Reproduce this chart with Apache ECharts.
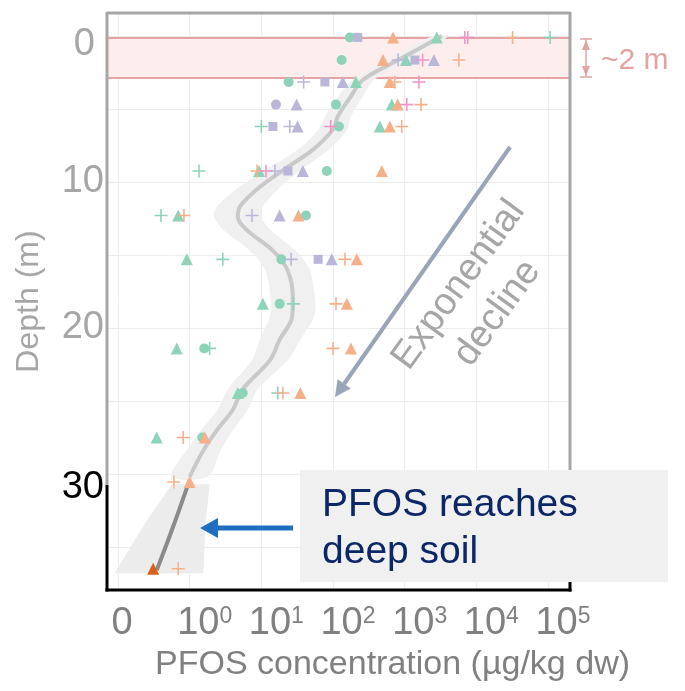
<!DOCTYPE html>
<html><head><meta charset="utf-8">
<script src="https://cdn.jsdelivr.net/npm/echarts@6/dist/echarts.min.js"></script>
<style>html,body{margin:0;padding:0;background:#fff}#c{width:685px;height:691px}</style>
</head><body><div id="c"></div>
<script>
// ---- tick labels ----
const xTickValues = [0, 1, 10, 100, 1000, 10000, 100000];
const yTickLabels = [0, 10, 20, 30];
const yGridDepths = [0, 5, 10, 15, 20, 25, 30, 35];
const surfaceLayer = [0.14, 2.88]; // ~2 m band (depth, m)

// ---- sample points: [PFOS µg/kg dw, depth m] ----
const greenCircle = [[172,0.1],[132,1.65],[24,3.15],[110,4.7],[121,6.2],[82,9.25],[42,12.3],[19,15.3],[18,18.35],[1.6,21.4],[5.5,24.45],[1.5,27.5]];
const greenTriangle = [[2800,0.1],[1040,1.65],[209,3.15],[660,4.7],[450,6.2],[9.3,9.25],[0.84,12.3],[0.96,15.3],[10.5,18.35],[0.82,21.4],[4.7,24.45],[0.54,27.5]];
const greenPlus = [[107000,0.1],[10,6.2],[1.35,9.25],[0.6,12.3],[2.9,15.3],[28,18.35],[1.9,21.4],[17,24.45]];
const orangeTriangle = [[690,0.1],[500,1.65],[620,3.15],[800,4.7],[620,6.2],[480,9.25],[33,12.3],[215,15.3],[156,18.35],[178,21.4],[35,24.45],[1.63,27.5],[1.0,30.55]];
const orangeTriangleDeep = [[0.49,36.5]];
const orangePlus = [[32000,0.1],[5700,1.65],[730,3.15],[1690,4.7],[910,6.2],[8.7,9.25],[0.92,12.3],[147,15.3],[110,18.35],[100,21.4],[20,24.45],[0.91,27.5],[0.78,30.55],[0.84,36.5]];
const purpleSquare = [[222,0.1],[1390,1.65],[77,3.15],[14.5,6.2],[23.5,9.25],[62,15.3]];
const purpleTriangle = [[2560,1.65],[137,3.15],[31,4.7],[32,6.2],[38,9.25],[18,12.3],[96,15.3]];
const purplePlus = [[810,1.65],[39,3.15],[25,6.2],[15.5,9.25],[7.4,12.3],[26,15.3]];
const purpleCircle = [[16,4.7]];
const pinkPlus = [[6900,0.1],[7600,0.1],[1780,1.65],[1580,3.15],[1070,4.7],[93,6.2],[11.6,9.25]];

// ---- smoothed trend and confidence band ----
const lineDepth = [0,1.6,3.0,4.2,5.5,6.4,7.8,9.2,10.5,11.7,12.4,13.3,14.7,16.0,17.9,19.2,20.8,22.2,24.2,25.6,27.0,28.4,30.2];
const lineConc  = [3300,850,263,174,117,100,52,20,8.7,5.0,4.7,6.3,14.5,23,27.5,27,18,13.2,5.5,4.0,2.4,1.55,1.0];
const ciLow  = [2455,617,186,117,78,63,32,11.2,4.5,2.4,2.2,3.0,6.9,11.2,13.5,13.2,9.5,7.4,3.4,2.45,1.45,0.95,0.75];
const ciHigh = [4074,1175,372,257,178,158,87,35,17,10.5,10,13.5,30,47,56,55,35,23.4,8.9,6.5,4.0,2.7,1.78];
const deepDepth = [30.4,33.6,36.6];
const deepConc  = [1.0,0.77,0.54];
const deepBandDepth = [30.7,33.6,36.8];
const deepLow  = [0.75,0.35,-0.05];
const deepHigh = [1.9,1.66,1.55];

// pseudo-log transform: 0 -> 0, 1 -> 1, 10 -> 2, ...
function toT(c){ return c >= 1 ? 1 + Math.log10(c) : c; }
function pts(arr){ return arr.map(p => [toT(p[0]), p[1]]); }

const FONT = 'Liberation Sans, Arial, sans-serif';
const plusPath = 'path://M0,8.8H20V11.2H0ZM8.8,0H11.2V20H8.8Z';
const GREEN='#8dd3b8', ORANGE='#f5b08a', PURPLE='#b9b6da', PINK='#f095c8';
const X_MIN = -0.1535, X_MAX = 6.307;
const LABEL_SHIFT = 15 / 71.67; // tick labels sit ~15px right of their grid lines

function bandRender(depths, lo, hi, smooth, fill){
  return function(params, api){
    const p = [];
    for (let i=0;i<depths.length;i++) p.push(api.coord([toT(hi[i]), depths[i]]));
    for (let i=depths.length-1;i>=0;i--) p.push(api.coord([toT(lo[i]), depths[i]]));
    return {type:'polygon', shape:{points:p, smooth:smooth}, style:{fill:fill}, silent:true};
  };
}

const scatterGroups = [
  [greenCircle,'circle',10,GREEN],
  [greenTriangle,'triangle',12,GREEN],
  [greenPlus,plusPath,13,GREEN],
  [orangeTriangle,'triangle',12,ORANGE],
  [orangeTriangleDeep,'triangle',12,'#d8601c'],
  [orangePlus,plusPath,13,ORANGE],
  [purpleSquare,'rect',9,PURPLE],
  [purpleTriangle,'triangle',12,PURPLE],
  [purplePlus,plusPath,13,PURPLE],
  [purpleCircle,'circle',10,PURPLE],
  [pinkPlus,plusPath,13,PINK]
];

const series = [
  {type:'scatter', data:[[0,0]], symbolSize:0, z:1, silent:true,
   markArea:{silent:true, itemStyle:{color:'#fdeded', borderColor:'#e6a3a3', borderWidth:2},
     data:[[{yAxis:surfaceLayer[0]},{yAxis:surfaceLayer[1]}]]}},
  {type:'custom', data:[[0,0]], z:1, renderItem:bandRender(lineDepth, ciLow, ciHigh, 0.3, '#f0f0f0'), clip:false},
  {type:'custom', data:[[0,0]], z:1, renderItem:bandRender(deepBandDepth, deepLow, deepHigh, 0, '#ececec'), clip:false},
  {type:'line', data:lineDepth.map((d,i)=>[toT(lineConc[i]), d]), smooth:0.35, showSymbol:false, symbol:'none',
   lineStyle:{color:'#c9c9c9', width:4}, z:2, silent:true},
  {type:'line', data:deepDepth.map((d,i)=>[toT(deepConc[i]), d]), smooth:0.35, showSymbol:false, symbol:'none',
   lineStyle:{color:'#8a8a8a', width:4}, z:2, silent:true}
];
scatterGroups.forEach(g => series.push({type:'scatter', data:pts(g[0]), symbol:g[1], symbolSize:g[2],
  itemStyle:{color:g[3], opacity:1}, z:3, silent:true}));

const chart = echarts.init(document.getElementById('c'), null, {renderer:'canvas'});
chart.setOption({
  animation:false,
  backgroundColor:'#ffffff',
  grid:{left:107, right:115, top:13, bottom:101, containLabel:false, show:false, outerBoundsMode:'none'},
  xAxis:[{type:'value', min:X_MIN, max:X_MAX, position:'bottom',
    axisLine:{show:false}, axisTick:{show:false, customValues:xTickValues.map(toT)},
    splitLine:{show:true, lineStyle:{color:'#ededed', width:1}},
    axisLabel:{show:false},
    name:'PFOS concentration (µg/kg dw)', nameLocation:'middle', nameGap:58, nameMoveOverlap:false,
    nameTextStyle:{fontSize:34, color:'#808080', fontFamily:FONT, padding:[0,0,0,108]}
  },{type:'value', min:X_MIN - LABEL_SHIFT, max:X_MAX - LABEL_SHIFT, position:'bottom', offset:0,
    axisLine:{show:false}, axisTick:{show:false}, splitLine:{show:false},
    axisLabel:{customValues:xTickValues.map(toT), margin:15, showMinLabel:true, showMaxLabel:true,
      formatter: v => v === 0 ? '{z|0}' : '{b|10}{s|' + Math.round(v-1) + '}',
      rich:{
        z:{fontSize:38, lineHeight:38, color:'#808080', fontFamily:FONT, padding:[0,22,0,0]},
        b:{fontSize:38, lineHeight:38, color:'#808080', fontFamily:FONT},
        s:{fontSize:23, lineHeight:23, color:'#808080', fontFamily:FONT, verticalAlign:'top'}
      }}
  }],
  yAxis:{type:'value', inverse:true, min:-1.575, max:37.95,
    axisLine:{show:false}, axisTick:{show:false, customValues:yGridDepths},
    splitLine:{show:true, lineStyle:{color:'#ededed', width:1}},
    axisLabel:{customValues:yTickLabels, margin:3, showMinLabel:true, showMaxLabel:true,
      formatter: v => v === 0 ? '{a|0}' : (v === 30 ? '{k|30}' : '{g|' + v + '}'),
      rich:{
        a:{fontSize:38, lineHeight:38, color:'#a6a6a6', fontFamily:FONT, padding:[18,9,0,0]},
        g:{fontSize:38, lineHeight:38, color:'#a6a6a6', fontFamily:FONT},
        k:{fontSize:38, lineHeight:38, color:'#000000', fontFamily:FONT, padding:[28,0,0,0]}
      }},
    name:'Depth (m)', nameLocation:'middle', nameGap:62, nameRotate:90, nameMoveOverlap:false,
    nameTextStyle:{fontSize:32, color:'#a6a6a6', fontFamily:FONT}
  },
  series: series,
  graphic:[
    // frame
    {type:'line', z:50, shape:{x1:107,y1:13,x2:570,y2:13}, style:{stroke:'#a6a6a6', lineWidth:3}},
    {type:'line', z:50, shape:{x1:107,y1:12,x2:107,y2:485}, style:{stroke:'#a6a6a6', lineWidth:3}},
    {type:'line', z:50, shape:{x1:570,y1:12,x2:570,y2:470}, style:{stroke:'#a6a6a6', lineWidth:3}},
    {type:'line', z:50, shape:{x1:107,y1:485,x2:107,y2:591.5}, style:{stroke:'#000', lineWidth:3}},
    {type:'line', z:50, shape:{x1:105.5,y1:590,x2:571.5,y2:590}, style:{stroke:'#000', lineWidth:3}},
    {type:'line', z:50, shape:{x1:570,y1:470,x2:570,y2:591.5}, style:{stroke:'#000', lineWidth:3}},
    // ~2 m bracket
    {type:'line', z:50, shape:{x1:586,y1:39,x2:586,y2:77}, style:{stroke:'#e3a3a3', lineWidth:1.5}},
    {type:'line', z:50, shape:{x1:580,y1:39,x2:592,y2:39}, style:{stroke:'#e3a3a3', lineWidth:1.5}},
    {type:'line', z:50, shape:{x1:580,y1:77,x2:592,y2:77}, style:{stroke:'#e3a3a3', lineWidth:1.5}},
    {type:'polygon', z:50, shape:{points:[[586,40],[582,50],[590,50]]}, style:{fill:'#e3a3a3'}},
    {type:'polygon', z:50, shape:{points:[[586,76],[582,66],[590,66]]}, style:{fill:'#e3a3a3'}},
    {type:'text', z:50, x:601, y:61, style:{text:'~2 m', fontSize:30, fontFamily:FONT, fill:'#e3a3a3', align:'left', verticalAlign:'middle'}},
    // exponential decline arrow
    {type:'line', z:50, shape:{x1:510,y1:147,x2:344,y2:384}, style:{stroke:'#9aa4b8', lineWidth:4}},
    {type:'polygon', z:50, shape:{points:[[335,397],[350.8,388.5],[337.6,379.3]]}, style:{fill:'#9aa4b8'}},
    {type:'text', z:50, x:478, y:299, rotation:54*Math.PI/180,
     style:{text:'Exponential\ndecline', fontSize:38, lineHeight:48, fontFamily:FONT, fill:'#a6a6a6', align:'center', verticalAlign:'middle'}},
    // deep soil box
    {type:'rect', z:60, shape:{x:300,y:470,width:368,height:112}, style:{fill:'#f0f0f0'}},
    {type:'text', z:61, x:322, y:482, style:{text:'PFOS reaches\ndeep soil', fontSize:39, lineHeight:47, fontFamily:FONT, fill:'#0b2767', align:'left', verticalAlign:'top'}},
    {type:'line', z:50, shape:{x1:293,y1:528,x2:214,y2:528}, style:{stroke:'#1c6fc2', lineWidth:5}},
    {type:'polygon', z:50, shape:{points:[[200,528],[218,518],[218,538]]}, style:{fill:'#1c6fc2'}}
  ]
});
</script>
</body></html>
